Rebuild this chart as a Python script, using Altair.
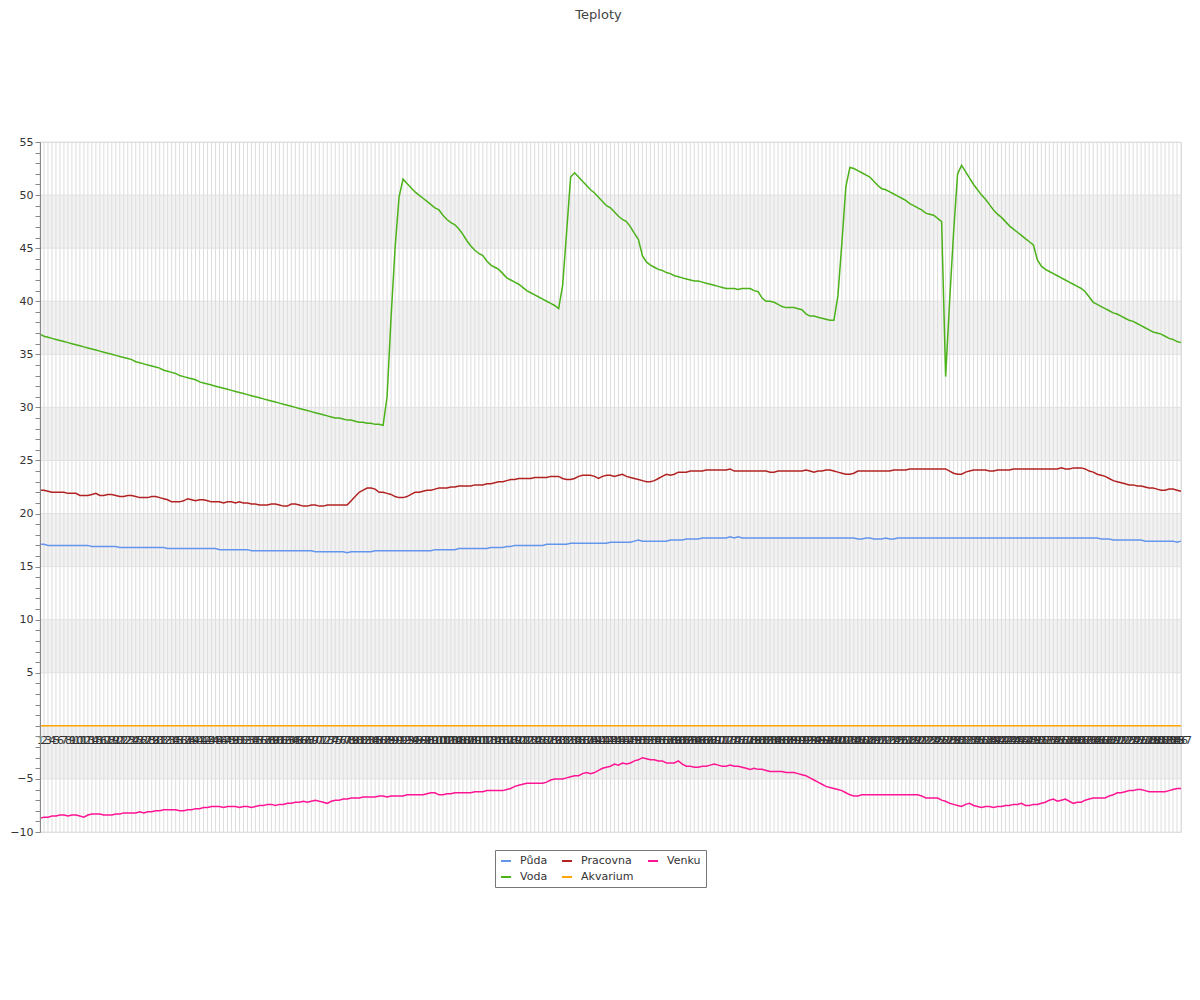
import altair as alt
import pandas as pd

N = 287
labels = [str(i) for i in range(1, N + 1)]

puda = [
    17.1, 17.1, 17.0, 17.0, 17.0, 17.0, 17.0, 17.0, 17.0, 17.0,
    17.0, 17.0, 17.0, 16.9, 16.9, 16.9, 16.9, 16.9, 16.9, 16.9,
    16.8, 16.8, 16.8, 16.8, 16.8, 16.8, 16.8, 16.8, 16.8, 16.8,
    16.8, 16.8, 16.7, 16.7, 16.7, 16.7, 16.7, 16.7, 16.7, 16.7,
    16.7, 16.7, 16.7, 16.7, 16.7, 16.6, 16.6, 16.6, 16.6, 16.6,
    16.6, 16.6, 16.6, 16.5, 16.5, 16.5, 16.5, 16.5, 16.5, 16.5,
    16.5, 16.5, 16.5, 16.5, 16.5, 16.5, 16.5, 16.5, 16.5, 16.4,
    16.4, 16.4, 16.4, 16.4, 16.4, 16.4, 16.4, 16.3, 16.4, 16.4,
    16.4, 16.4, 16.4, 16.4, 16.5, 16.5, 16.5, 16.5, 16.5, 16.5,
    16.5, 16.5, 16.5, 16.5, 16.5, 16.5, 16.5, 16.5, 16.5, 16.6,
    16.6, 16.6, 16.6, 16.6, 16.6, 16.7, 16.7, 16.7, 16.7, 16.7,
    16.7, 16.7, 16.7, 16.8, 16.8, 16.8, 16.8, 16.9, 16.9, 17.0,
    17.0, 17.0, 17.0, 17.0, 17.0, 17.0, 17.0, 17.1, 17.1, 17.1,
    17.1, 17.1, 17.1, 17.2, 17.2, 17.2, 17.2, 17.2, 17.2, 17.2,
    17.2, 17.2, 17.2, 17.3, 17.3, 17.3, 17.3, 17.3, 17.3, 17.4,
    17.5, 17.4, 17.4, 17.4, 17.4, 17.4, 17.4, 17.4, 17.5, 17.5,
    17.5, 17.5, 17.6, 17.6, 17.6, 17.6, 17.7, 17.7, 17.7, 17.7,
    17.7, 17.7, 17.7, 17.8, 17.7, 17.8, 17.7, 17.7, 17.7, 17.7,
    17.7, 17.7, 17.7, 17.7, 17.7, 17.7, 17.7, 17.7, 17.7, 17.7,
    17.7, 17.7, 17.7, 17.7, 17.7, 17.7, 17.7, 17.7, 17.7, 17.7,
    17.7, 17.7, 17.7, 17.7, 17.7, 17.6, 17.6, 17.7, 17.7, 17.6,
    17.6, 17.6, 17.7, 17.6, 17.6, 17.7, 17.7, 17.7, 17.7, 17.7,
    17.7, 17.7, 17.7, 17.7, 17.7, 17.7, 17.7, 17.7, 17.7, 17.7,
    17.7, 17.7, 17.7, 17.7, 17.7, 17.7, 17.7, 17.7, 17.7, 17.7,
    17.7, 17.7, 17.7, 17.7, 17.7, 17.7, 17.7, 17.7, 17.7, 17.7,
    17.7, 17.7, 17.7, 17.7, 17.7, 17.7, 17.7, 17.7, 17.7, 17.7,
    17.7, 17.7, 17.7, 17.7, 17.7, 17.7, 17.6, 17.6, 17.6, 17.5,
    17.5, 17.5, 17.5, 17.5, 17.5, 17.5, 17.5, 17.4, 17.4, 17.4,
    17.4, 17.4, 17.4, 17.4, 17.4, 17.3, 17.4,
]

voda = [
    36.9, 36.7, 36.6, 36.5, 36.4, 36.3, 36.2, 36.1, 36.0, 35.9, 35.8,
    35.7, 35.6, 35.5, 35.4, 35.3, 35.2, 35.1, 35.0, 34.9, 34.8,
    34.7, 34.6, 34.5, 34.3, 34.2, 34.1, 34.0, 33.9, 33.8, 33.7,
    33.5, 33.4, 33.3, 33.2, 33.0, 32.9, 32.8, 32.7, 32.6, 32.4,
    32.3, 32.2, 32.1, 32.0, 31.9, 31.8, 31.7, 31.6, 31.5, 31.4,
    31.3, 31.2, 31.1, 31.0, 30.9, 30.8, 30.7, 30.6, 30.5, 30.4,
    30.3, 30.2, 30.1, 30.0, 29.9, 29.8, 29.7, 29.6, 29.5, 29.4,
    29.3, 29.2, 29.1, 29.0, 29.0, 28.9, 28.8, 28.8, 28.7, 28.6,
    28.6, 28.5, 28.5, 28.4, 28.4, 28.3,
    31.0, 38.5, 45.0, 49.8, 51.5,
    51.1, 50.7, 50.3, 50.0, 49.7, 49.4, 49.1, 48.8, 48.6, 48.1,
    47.7, 47.4, 47.2, 46.8, 46.3, 45.7, 45.2, 44.8, 44.5, 44.3,
    43.8, 43.4, 43.2, 43.0, 42.6, 42.2, 42.0, 41.8, 41.6, 41.3,
    41.0, 40.8, 40.6, 40.4, 40.2, 40.0, 39.8, 39.6, 39.3,
    41.5, 46.5, 51.7, 52.1,
    51.7, 51.3, 50.9, 50.5, 50.2, 49.8, 49.4, 49.0, 48.8, 48.4,
    48.0, 47.7, 47.5, 47.0, 46.4, 45.8, 44.3, 43.7, 43.4, 43.2,
    43.0, 42.9, 42.7, 42.6, 42.4, 42.3, 42.2, 42.1, 42.0, 41.9,
    41.9, 41.8, 41.7, 41.6, 41.5, 41.4, 41.3, 41.2, 41.2, 41.2,
    41.1, 41.2, 41.2, 41.2, 41.0, 40.9, 40.3, 40.0, 40.0, 39.9,
    39.7, 39.5, 39.4, 39.4, 39.4, 39.3, 39.2, 38.8, 38.6, 38.6,
    38.5, 38.4, 38.3, 38.2, 38.2,
    40.5, 45.5, 50.8, 52.6,
    52.5, 52.3, 52.1, 51.9, 51.7, 51.3, 50.9, 50.6, 50.5, 50.3,
    50.1, 49.9, 49.7, 49.5, 49.2, 49.0, 48.8, 48.6, 48.3, 48.2,
    48.1, 47.8, 47.5,
    32.9, 40.0, 46.5, 52.0, 52.8,
    52.2, 51.6, 51.0, 50.5, 50.0, 49.6, 49.1, 48.6, 48.2, 47.9,
    47.5, 47.1, 46.8, 46.5, 46.2, 45.9, 45.6, 45.3,
    43.9, 43.3, 43.0, 42.8, 42.6, 42.4, 42.2, 42.0, 41.8, 41.6,
    41.4, 41.2, 40.9, 40.4, 39.9, 39.7, 39.5, 39.3, 39.1, 38.9,
    38.8, 38.6, 38.4, 38.2, 38.1, 37.9, 37.7, 37.5, 37.3, 37.1,
    37.0, 36.9, 36.7, 36.5, 36.4, 36.2, 36.1,
]

pracovna = [
    22.2, 22.2, 22.1, 22.0, 22.0, 22.0, 22.0, 21.9, 21.9, 21.9,
    21.7, 21.7, 21.7, 21.8, 21.9, 21.7, 21.7, 21.8, 21.8, 21.7,
    21.6, 21.6, 21.7, 21.7, 21.6, 21.5, 21.5, 21.5, 21.6, 21.6,
    21.5, 21.4, 21.3, 21.1, 21.1, 21.1, 21.2, 21.4, 21.3, 21.2,
    21.3, 21.3, 21.2, 21.1, 21.1, 21.1, 21.0, 21.1, 21.1, 21.0,
    21.1, 21.0, 21.0, 20.9, 20.9, 20.8, 20.8, 20.8, 20.9, 20.9,
    20.8, 20.7, 20.7, 20.9, 20.9, 20.8, 20.7, 20.7, 20.8, 20.8,
    20.7, 20.7, 20.8, 20.8, 20.8, 20.8, 20.8, 20.8, 21.2, 21.6,
    22.0, 22.2, 22.4, 22.4, 22.3, 22.0, 22.0, 21.9, 21.8, 21.6,
    21.5, 21.5, 21.6, 21.8, 22.0, 22.0, 22.1, 22.2, 22.2, 22.3,
    22.4, 22.4, 22.4, 22.5, 22.5, 22.6, 22.6, 22.6, 22.6, 22.7,
    22.7, 22.7, 22.8, 22.8, 22.9, 23.0, 23.0, 23.1, 23.2, 23.2,
    23.3, 23.3, 23.3, 23.3, 23.4, 23.4, 23.4, 23.4, 23.5, 23.5,
    23.5, 23.3, 23.2, 23.2, 23.3, 23.5, 23.6, 23.6, 23.6, 23.5,
    23.3, 23.5, 23.6, 23.6, 23.5, 23.6, 23.7, 23.5, 23.4, 23.3,
    23.2, 23.1, 23.0, 23.0, 23.1, 23.3, 23.5, 23.7, 23.6, 23.7,
    23.9, 23.9, 23.9, 24.0, 24.0, 24.0, 24.0, 24.1, 24.1, 24.1,
    24.1, 24.1, 24.1, 24.2, 24.0, 24.0, 24.0, 24.0, 24.0, 24.0,
    24.0, 24.0, 24.0, 23.9, 23.9, 24.0, 24.0, 24.0, 24.0, 24.0,
    24.0, 24.0, 24.1, 24.0, 23.9, 24.0, 24.0, 24.1, 24.1, 24.0,
    23.9, 23.8, 23.7, 23.7, 23.8, 24.0, 24.0, 24.0, 24.0, 24.0,
    24.0, 24.0, 24.0, 24.0, 24.1, 24.1, 24.1, 24.1, 24.2, 24.2,
    24.2, 24.2, 24.2, 24.2, 24.2, 24.2, 24.2, 24.2, 24.0, 23.8,
    23.7, 23.7, 23.9, 24.0, 24.1, 24.1, 24.1, 24.1, 24.0, 24.0,
    24.1, 24.1, 24.1, 24.1, 24.2, 24.2, 24.2, 24.2, 24.2, 24.2,
    24.2, 24.2, 24.2, 24.2, 24.2, 24.2, 24.3, 24.2, 24.2, 24.3,
    24.3, 24.3, 24.2, 24.0, 23.9, 23.7, 23.6, 23.5, 23.3, 23.1,
    23.0, 22.9, 22.8, 22.7, 22.7, 22.6, 22.6, 22.5, 22.4, 22.4,
    22.3, 22.2, 22.2, 22.3, 22.3, 22.2, 22.1,
]

akvarium = [0.0] * N

venku = [
    -8.7, -8.6, -8.6, -8.5, -8.5, -8.4, -8.4, -8.5, -8.4, -8.4,
    -8.5, -8.6, -8.4, -8.3, -8.3, -8.3, -8.4, -8.4, -8.4, -8.3,
    -8.3, -8.2, -8.2, -8.2, -8.2, -8.1, -8.2, -8.1, -8.1, -8.0,
    -8.0, -7.9, -7.9, -7.9, -7.9, -8.0, -8.0, -7.9, -7.9, -7.8,
    -7.8, -7.7, -7.7, -7.6, -7.6, -7.6, -7.7, -7.6, -7.6, -7.6,
    -7.7, -7.6, -7.6, -7.7, -7.6, -7.5, -7.5, -7.4, -7.4, -7.5,
    -7.4, -7.4, -7.3, -7.3, -7.2, -7.2, -7.1, -7.2, -7.1, -7.0,
    -7.1, -7.2, -7.3, -7.1, -7.0, -7.0, -6.9, -6.9, -6.8, -6.8,
    -6.8, -6.7, -6.7, -6.7, -6.7, -6.6, -6.6, -6.7, -6.6, -6.6,
    -6.6, -6.6, -6.5, -6.5, -6.5, -6.5, -6.5, -6.4, -6.3, -6.3,
    -6.5, -6.5, -6.4, -6.4, -6.3, -6.3, -6.3, -6.3, -6.3, -6.2,
    -6.2, -6.2, -6.1, -6.1, -6.1, -6.1, -6.1, -6.0, -5.9, -5.7,
    -5.6, -5.5, -5.4, -5.4, -5.4, -5.4, -5.4, -5.3, -5.1, -5.0,
    -5.0, -5.0, -4.9, -4.8, -4.7, -4.7, -4.5, -4.4, -4.5, -4.4,
    -4.2, -4.0, -3.9, -3.8, -3.6, -3.7, -3.5, -3.6, -3.5, -3.3,
    -3.2, -3.0, -3.1, -3.2, -3.2, -3.3, -3.3, -3.5, -3.5, -3.5,
    -3.3, -3.6, -3.8, -3.8, -3.9, -3.9, -3.8, -3.8, -3.7, -3.6,
    -3.7, -3.8, -3.8, -3.7, -3.8, -3.8, -3.9, -4.0, -4.1, -4.0,
    -4.1, -4.1, -4.2, -4.3, -4.3, -4.3, -4.3, -4.4, -4.4, -4.4,
    -4.5, -4.6, -4.7, -4.9, -5.1, -5.3, -5.5, -5.7, -5.8, -5.9,
    -6.0, -6.1, -6.3, -6.5, -6.6, -6.6, -6.5, -6.5, -6.5, -6.5,
    -6.5, -6.5, -6.5, -6.5, -6.5, -6.5, -6.5, -6.5, -6.5, -6.5,
    -6.5, -6.6, -6.8, -6.8, -6.8, -6.8, -7.0, -7.1, -7.3, -7.4,
    -7.5, -7.6, -7.4, -7.3, -7.5, -7.6, -7.7, -7.6, -7.6, -7.7,
    -7.6, -7.6, -7.5, -7.5, -7.4, -7.4, -7.3, -7.5, -7.5, -7.4,
    -7.4, -7.3, -7.2, -7.0, -6.9, -7.1, -7.0, -6.9, -7.1, -7.3,
    -7.2, -7.2, -7.0, -6.9, -6.8, -6.8, -6.8, -6.8, -6.6, -6.5,
    -6.3, -6.3, -6.2, -6.1, -6.1, -6.0, -6.0, -6.1, -6.2, -6.2,
    -6.2, -6.2, -6.2, -6.1, -6.0, -5.9, -5.9,
]

series_names = ["Půda", "Voda", "Pracovna", "Akvarium", "Venku"]
series_values = [puda, voda, pracovna, akvarium, venku]
legend_order = ["Půda", "Pracovna", "Venku", "Voda", "Akvarium"]
legend_colors = ["#6495ED", "#B22222", "#FF1493", "#4CB21A", "#FFA500"]

y_ticks = list(range(-10, 56))
grid_vals = [-10, -5, 0, 5, 10, 15, 20, 25, 30, 35, 40, 45, 50, 55]
band_lo = [45, 35, 25, 15, 5, -5]
band_hi = [50, 40, 30, 20, 10, 0]

for s in series_values:
    assert len(s) == N, len(s)

rows = []
for name, vals in zip(series_names, series_values):
    for i in range(N):
        rows.append({"t": labels[i], "serie": name, "v": vals[i]})
df = pd.DataFrame(rows)

W, H = 1141, 690
FONT = "DejaVu Sans"
yscale = alt.Scale(domain=[-10, 55], nice=False, zero=False)
xscale = alt.Scale(type="point", padding=0)

x_axis = alt.Axis(
    title=None,
    labelAngle=0,
    labelOverlap=False,
    ticks=False,
    domain=False,
    grid=False,
    offset=-106,
    zindex=1,
    labelFontSize=11,
    labelColor="#333",
    labelPadding=8,
    labelFont=FONT,
)
y_axis = alt.Axis(
    title=None,
    values=y_ticks,
    labelExpr="datum.value % 5 == 0 && datum.value != 0 ? datum.label : ''",
    labelOverlap=False,
    grid=False,
    zindex=1,
    tickSize=5,
    tickColor="#888",
    domainColor="#888",
    labelColor="#333",
    labelFontSize=11,
    labelPadding=2,
    labelFont=FONT,
)

bands = alt.Chart(pd.DataFrame({"lo": band_lo, "hi": band_hi})).mark_rect(
    color="#f2f2f2"
).encode(
    y=alt.Y("lo:Q", scale=yscale, axis=y_axis),
    y2="hi:Q",
    x=alt.value(0),
    x2=alt.value(W),
)

hgrid = alt.Chart(pd.DataFrame({"g": grid_vals})).mark_rule(
    color="#e2e2e2", strokeWidth=1
).encode(
    y=alt.Y("g:Q", scale=yscale, axis=y_axis),
    x=alt.value(0),
    x2=alt.value(W),
)

vgrid = alt.Chart(pd.DataFrame({"t": labels})).mark_rule(
    color="#dddddd", strokeWidth=1
).encode(
    x=alt.X("t:O", sort=labels, scale=xscale, axis=x_axis),
    y=alt.value(0),
    y2=alt.value(H),
)

lines = alt.Chart(df).mark_line(strokeWidth=1.5).encode(
    x=alt.X("t:O", sort=labels, scale=xscale, axis=x_axis),
    y=alt.Y("v:Q", scale=yscale, axis=y_axis),
    color=alt.Color(
        "serie:N",
        scale=alt.Scale(domain=legend_order, range=legend_colors),
        legend=alt.Legend(
            title=None,
            orient="none",
            legendX=455,
            legendY=708,
            columns=3,
            direction="horizontal",
            symbolType="stroke",
            symbolSize=100,
            symbolStrokeWidth=2,
            strokeColor="#777",
            fillColor="white",
            padding=5,
            columnPadding=10,
            rowPadding=5,
            labelFontSize=11,
            labelFont=FONT,
            labelColor="#333",
            labelOffset=8,
        ),
    ),
    detail="serie:N",
)

chart = alt.layer(bands, hgrid, vgrid, lines).properties(
    width=W,
    height=H,
    autosize=alt.AutoSizeParams(type="none"),
    padding={"left": 32, "top": 134, "right": 11, "bottom": 100},
    title=alt.Title(
        "Teploty",
        fontSize=13,
        fontWeight="normal",
        color="#444",
        font=FONT,
        anchor="middle",
        offset=114,
        dx=-12,
    ),
).configure_view(stroke=None).configure(background="white")

chart.save("out.html", embed_options={"renderer": "svg", "actions": False})
